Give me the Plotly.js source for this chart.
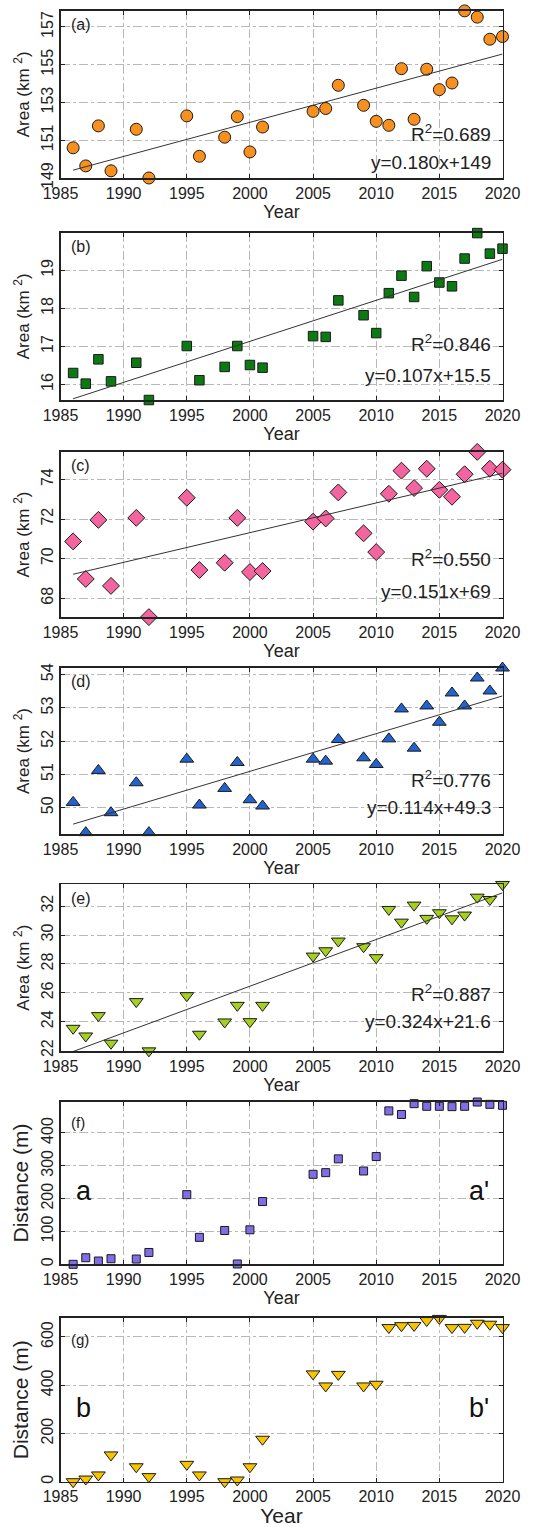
<!DOCTYPE html>
<html><head><meta charset="utf-8">
<script src="https://cdn.plot.ly/plotly-3.0.1.min.js"></script>
<style>html,body{margin:0;padding:0;background:#fff}</style>
</head><body><div id="chart" style="width:538px;height:1527px"></div>
<script>
// ---- data ----
const years = [1986,1987,1988,1989,1991,1992,1995,1996,1998,1999,2000,2001,2005,2006,2007,2009,2010,2011,2012,2013,2014,2015,2016,2017,2018,2019,2020];
const areaA = [150.6,149.64,151.76,149.38,151.58,149.0,152.29,150.15,151.16,152.25,150.38,151.70,152.53,152.68,153.91,152.85,152.0,151.79,154.79,152.11,154.76,153.68,154.03,157.85,157.52,156.35,156.49];
const areaB = [16.30,16.02,16.66,16.08,16.57,15.59,17.01,16.11,16.46,17.01,16.51,16.44,17.27,17.25,18.21,17.82,17.35,18.40,18.86,18.30,19.11,18.68,18.58,19.31,19.98,19.44,19.57];
const areaC = [70.87,68.97,71.96,68.62,72.06,67.04,73.08,69.42,69.79,72.06,69.32,69.37,71.87,72.03,73.35,71.28,70.33,73.28,74.45,73.57,74.55,73.48,73.13,74.27,75.40,74.55,74.50];
const areaD = [50.16,49.25,51.12,49.85,50.75,49.25,51.46,50.08,50.58,51.36,50.24,50.05,51.46,51.40,52.05,51.50,51.30,52.07,52.97,51.79,53.06,52.57,53.45,53.06,53.90,53.51,54.2];
const areaE = [23.54,23.01,24.42,22.51,25.39,21.98,25.80,23.13,23.98,25.13,24.0,25.13,28.54,28.91,29.58,29.19,28.43,31.77,30.89,32.07,31.15,31.54,31.12,31.38,32.62,32.46,33.5];
const distA = [0,20,10,17,16,36,212,82,103,1,105,191,274,279,321,284,328,467,456,489,481,481,480,481,494,487,484];
const distB = [0,11,28,111,62,21,72,28,0,7,62,176,447,397,445,397,404,639,647,648,668,677,639,640,657,653,639];
const panelLabels = ['(a)','(b)','(c)','(d)','(e)','(f)','(g)'];
const r2Labels = ['R<sup>2</sup>=0.689','R<sup>2</sup>=0.846','R<sup>2</sup>=0.550','R<sup>2</sup>=0.776','R<sup>2</sup>=0.887'];
const eqLabels = ['y=0.180x+149','y=0.107x+15.5','y=0.151x+69','y=0.114x+49.3','y=0.324x+21.6'];
const profileLabels = [['a',"a'"],['b',"b'"]];
const xTickVals = [1985,1990,1995,2000,2005,2010,2015,2020];

// ---- styling / layout ----
const W = 538, H = 1527;
const series = [areaA, areaB, areaC, areaD, areaE, distA, distB];
const symbols = ['circle','square','diamond','triangle-up','triangle-down','square','triangle-down'];
const sizes = [12,9.5,13,12,12,8,12];
const colors = ['#f7901e','#0b7a12','#f4659f','#2363cf','#a7cf1f','#7f6ee6','#f8c400'];
const ranges = [[149,157.86],[15.59,19.99],[67.03,75.41],[49.2,54.21],[21.97,33.51],[0,495],[0,680]];
const dticks = [2,1,2,1,2,100,200];
const tick0s = [151,16,68,50,22,0,0];
const pxTop = [10.7,232.7,451.7,667.7,884.3,1101.7,1317.7];
const pxBot = [178,400,617.3,834.3,1051,1264.3,1481.7];
const xL = 60.5, xR = 502.5;
const r2Y = [0.267,0.34,0.356,0.33,0.35];
const eqY = [0.094,0.145,0.155,0.16,0.176];
const FONT = 'Liberation Sans, Arial, sans-serif';

function fit(x, y){
  const n = x.length; let sx=0, sy=0, sxx=0, sxy=0;
  for(let i=0;i<n;i++){sx+=x[i];sy+=y[i];sxx+=x[i]*x[i];sxy+=x[i]*y[i];}
  const b = (n*sxy - sx*sy)/(n*sxx - sx*sx); const a = (sy - b*sx)/n;
  return [a,b];
}

const traces = [], annotations = [];
const layout = {width:W, height:H, margin:{l:0,r:0,t:0,b:0}, showlegend:false,
  paper_bgcolor:'#fff', plot_bgcolor:'#fff', font:{family:FONT, color:'#222'}, annotations};

series.forEach((ys, i) => {
  const k = i===0 ? '' : String(i+1);
  const xa = 'x'+k, ya = 'y'+k;
  traces.push({type:'scatter', mode:'markers', x:years, y:ys, xaxis:xa, yaxis:ya, cliponaxis:false,
    marker:{symbol:symbols[i], size:sizes[i], color:colors[i], line:{color:'#1a1a1a', width:1}}});
  if(i<5){
    const [a,b] = fit(years, ys);
    const x0 = years[0], x1 = years[years.length-1];
    traces.push({type:'scatter', mode:'lines', x:[x0,x1], y:[a+b*x0, a+b*x1], xaxis:xa, yaxis:ya,
      line:{color:'#333', width:1}, hoverinfo:'skip'});
  }
  const isLast = i===6;
  const isDist = i>=5;
  layout['xaxis'+k] = {domain:[xL/W, xR/W], anchor:ya, range:[1985,2020], tickvals:xTickVals,
    showgrid:true, gridcolor:'#b8b8b8', griddash:'dashdot', gridwidth:1, zeroline:false,
    showline:true, linecolor:'#222', linewidth:1.5, mirror:'ticks', ticks:'inside', ticklen:4, tickcolor:'#222',
    tickfont:{size:16, family:FONT, color:'#222'},
    title:{text:'Year', font:{size:isLast?21:18, family:FONT, color:'#222'}, standoff:isLast?2:1}};
  layout['yaxis'+k] = {domain:[1-pxBot[i]/H, 1-pxTop[i]/H], anchor:xa, range:ranges[i], tick0:tick0s[i], dtick:dticks[i],
    showgrid:true, gridcolor:'#b8b8b8', griddash:'dashdot', gridwidth:1, zeroline:false,
    showline:true, linecolor:'#222', linewidth:1.5, mirror:'ticks', ticks:'inside', ticklen:4, tickcolor:'#222',
    tickangle:-90, tickfont:{size:16, family:FONT, color:'#222'},
    title:{text: isDist ? 'Distance (m)' : 'Area (km <sup>2</sup>)', font:{size:isDist?21:17, family:FONT, color:'#222'}, standoff:4}};
  annotations.push({xref:xa+' domain', yref:ya+' domain', x:0.02, y:isDist?0.87:0.915, xanchor:'left', yanchor:'middle',
    text:panelLabels[i], showarrow:false, font:{size:isDist?15:16, family:FONT, color:'#222'}});
  if(i<5){
    annotations.push({xref:xa+' domain', yref:ya+' domain', x:0.978, y:r2Y[i], xanchor:'right', yanchor:'middle',
      text:r2Labels[i], showarrow:false, font:{size:19, family:FONT, color:'#222'}});
    annotations.push({xref:xa+' domain', yref:ya+' domain', x:0.978, y:eqY[i], xanchor:'right', yanchor:'middle',
      text:eqLabels[i], showarrow:false, font:{size:19, family:FONT, color:'#222'}});
  } else {
    const pl = profileLabels[i-5];
    annotations.push({xref:xa+' domain', yref:ya+' domain', x:0.03, y:0.45, xanchor:'left', yanchor:'middle',
      text:pl[0], showarrow:false, font:{size:27, family:FONT, color:'#111'}});
    annotations.push({xref:xa+' domain', yref:ya+' domain', x:0.975, y:0.45, xanchor:'right', yanchor:'middle',
      text:pl[1], showarrow:false, font:{size:27, family:FONT, color:'#111'}});
  }
});

Plotly.newPlot('chart', traces, layout, {displayModeBar:false, staticPlot:true});
</script></body></html>
